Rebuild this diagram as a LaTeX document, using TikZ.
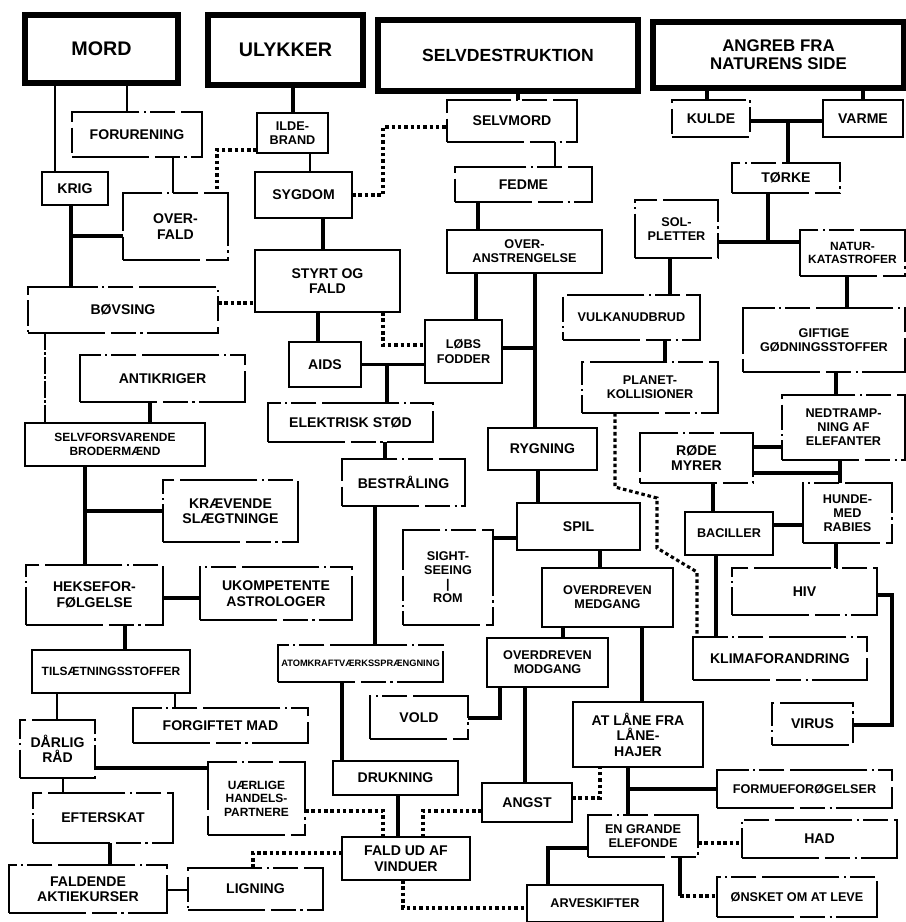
\documentclass[tikz,border=0pt]{standalone}
\usepackage{fontspec}
\setmainfont{Liberation Sans}
\usetikzlibrary{positioning,calc}

\tikzset{
  box/.style={draw, line width=1.1pt, inner sep=1pt, outer sep=0pt, align=center,
    font=\bfseries\fontsize{10}{11}\selectfont},
  gapbox/.style={box, dash pattern=on 55pt off 4pt on 18pt off 3pt on 1.5pt off 3pt},
  topbox/.style={box, line width=4pt, font=\bfseries\fontsize{14}{15}\selectfont},
  wh/.style 2 args={minimum width=#1*0.025cm, minimum height=#2*0.025cm},
  mid/.style={font=\bfseries\fontsize{9}{10}\selectfont},
  small/.style={font=\bfseries\fontsize{8.5}{9.5}\selectfont},
  tiny/.style={font=\bfseries\fontsize{6.6}{8}\selectfont},
  link/.style={line width=2.6pt},
  midlink/.style={line width=1.8pt},
  dots/.style={line width=2.2pt, dash pattern=on 2.5pt off 2pt},
  dashlink/.style={line width=1.4pt, dash pattern=on 12pt off 1.5pt on 2pt off 1.5pt}
}

\begin{document}
\begin{tikzpicture}[x=0.025cm, y=-0.025cm]
\useasboundingbox (0,0) rectangle (906,922);

% top row
\node[topbox, wh={153}{68}] (mord) at (101.5,49) {MORD};
\node[topbox, wh={155}{70}] (ulykker) at (285.5,50) {ULYKKER};
\node[topbox, wh={260}{71}, font=\bfseries\fontsize{12.5}{14}\selectfont] (selvdestr) at (508,55.5) {SELVDESTRUKTION};
\node[topbox, wh={251}{66}, font=\bfseries\fontsize{12}{13}\selectfont] (angreb) at (778.5,55) {ANGREB FRA\\NATURENS SIDE};

% mord
\node[gapbox, wh={130}{45}] (forurening) at (137,134.5) {FORURENING};
\node[box, wh={66}{33}] (krig) at (75,188.5) {KRIG};
\node[gapbox, wh={105}{67}] (overfald) at (175.5,226.5) {OVER-\\FALD};
\node[gapbox, wh={190}{46}] (bavsing) at (123,310) {BØVSING};
\node[gapbox, wh={165}{47}] (antikriger) at (162.5,378.5) {ANTIKRIGER};
\node[box, wh={180}{43}, small] (selvforsv) at (115,444.5) {SELVFORSVARENDE\\BRODERMÆND};
\node[gapbox, wh={135}{62}] (kraevende) at (230.5,511) {KRÆVENDE\\SLÆGTNINGE};
\node[gapbox, wh={137}{60}] (forfoelgelse) at (94.5,595) {HEKSEFOR-\\FØLGELSE};
\node[gapbox, wh={152}{53}] (ukompetente) at (276,593.5) {UKOMPETENTE\\ASTROLOGER};
\node[box, wh={158}{43}, small] (tilsaetning) at (111,671.5) {TILSÆTNINGSSTOFFER};
\node[gapbox, wh={175}{35}] (forgiftet) at (220.5,725.5) {FORGIFTET MAD};
\node[gapbox, wh={75}{58}] (aerlig) at (57.5,749) {DÅRLIG\\RÅD};
\node[gapbox, wh={97}{73}, small] (uaerlige) at (256.5,798.5) {UÆRLIGE\\HANDELS-\\PARTNERE};
\node[gapbox, wh={140}{50}] (giftskat) at (103,818) {EFTERSKAT};
\node[gapbox, wh={158}{48}] (faldende) at (88,889) {FALDENDE\\AKTIEKURSER};
\node[gapbox, wh={135}{42}] (taening) at (255.5,889) {LIGNING};

% ulykker
\node[box, wh={71}{40}, mid] (ildebrand) at (292.5,133) {ILDE-\\BRAND};
\node[box, wh={97}{46}] (sygdom) at (303.5,195) {SYGDOM};
\node[box, wh={145}{62}] (styrt) at (327.5,281) {STYRT OG\\FALD};
\node[box, wh={72}{45}] (aids) at (325,364.5) {AIDS};
\node[gapbox, wh={165}{39}] (elektrisk) at (350.5,422.5) {ELEKTRISK STØD};
\node[gapbox, wh={123}{47}] (bestraaling) at (403.5,482.5) {BESTRÅLING};
\node[gapbox, wh={165}{37}, tiny] (atomkraft) at (360.5,663.5) {ATOMKRAFTVÆRKSSPRÆNGNING};
\node[gapbox, wh={98}{43}] (vold) at (419,717.5) {VOLD};
\node[box, wh={125}{34}] (drukning) at (395.5,778) {DRUKNING};
\node[box, wh={128}{43}] (faldud) at (406,858.5) {FALD UD AF\\VINDUER};

% selvdestruktion
\node[gapbox, wh={130}{42}] (selvmord) at (512,121) {SELVMORD};
\node[gapbox, wh={137}{35}] (fedme) at (523.5,184.5) {FEDME};
\node[box, wh={155}{43}, mid] (overanstr) at (524.5,251.5) {OVER-\\ANSTRENGELSE};
\node[box, wh={77}{63}, mid] (loeds) at (463.5,351.5) {LØBS\\FODDER};
\node[box, wh={109}{42}] (rygning) at (542.5,449) {RYGNING};
\node[box, wh={123}{47}] (spil) at (578.5,526.5) {SPIL};
\node[gapbox, wh={90}{95}, mid] (sightseeing) at (448,577.5) {SIGHT-\\SEEING\\|\\ROM};
\node[box, wh={131}{59}, mid] (medgang) at (607.5,597.5) {OVERDREVEN\\MEDGANG};
\node[box, wh={121}{49}, mid] (modgang) at (547.5,662.5) {OVERDREVEN\\MODGANG};
\node[box, wh={130}{65}] (laane) at (638,734.5) {AT LÅNE FRA\\LÅNE-\\HAJER};
\node[box, wh={90}{39}] (angst) at (527,802.5) {ANGST};
\node[gapbox, wh={110}{42}, mid] (engrande) at (643,836) {EN GRANDE\\ELEFONDE};
\node[box, wh={136}{37}, mid] (arve) at (595,903.5) {ARVESKIFTER};

% angreb fra naturens side
\node[gapbox, wh={78}{37}] (kulde) at (711,118.5) {KULDE};
\node[box, wh={80}{37}] (varme) at (863,118.5) {VARME};
\node[gapbox, wh={108}{30}] (toerke) at (786,178) {TØRKE};
\node[gapbox, wh={83}{58}, mid] (solpletter) at (676.5,229) {SOL-\\PLETTER};
\node[gapbox, wh={105}{46}, small] (naturkat) at (852.5,253) {NATUR-\\KATASTROFER};
\node[gapbox, wh={137}{45}, mid] (vulkan) at (631.5,317.5) {VULKANUDBRUD};
\node[gapbox, wh={162}{64}, mid] (giftige) at (824,340) {GIFTIGE\\GØDNINGSSTOFFER};
\node[gapbox, wh={136}{51}, mid] (planet) at (650,387.5) {PLANET-\\KOLLISIONER};
\node[gapbox, wh={123}{65}, mid] (nedtramp) at (843.5,427.5) {NEDTRAMP-\\NING AF\\ELEFANTER};
\node[gapbox, wh={113}{50}] (roedemyrer) at (696.5,458) {RØDE\\MYRER};
\node[box, wh={88}{43}, mid] (baciller) at (729,533.5) {BACILLER};
\node[gapbox, wh={89}{60}, mid] (hunde) at (847.5,513) {HUNDE-\\MED\\RABIES};
\node[gapbox, wh={145}{47}] (hvg) at (804.5,591.5) {HIV};
\node[gapbox, wh={174}{43}] (klima) at (780,658.5) {KLIMAFORANDRING};
\node[gapbox, wh={81}{42}] (virus) at (812.5,724) {VIRUS};
\node[gapbox, wh={175}{38}, mid] (formue) at (804.5,789) {FORMUEFORØGELSER};
\node[gapbox, wh={155}{38}] (had) at (819.5,839) {HAD};
\node[gapbox, wh={160}{40}, mid] (oensket) at (797,897) {ØNSKET OM AT LEVE};

% junctions
\coordinate (j1) at (71,236);
\coordinate (j2) at (387,365);
\coordinate (j3) at (85,511);
\coordinate (j4) at (535,348);
\coordinate (j5) at (788,121);
\coordinate (j6) at (768,242);
\coordinate (j7) at (840,473);
\coordinate (j8) at (628,789);
\coordinate (j9) at (680,896);

% mord connectors
\draw[midlink] (mord.south -| 55,0) -- (krig.north -| 55,0);
\draw[midlink] (mord.south -| 127,0) -- (forurening.north -| 127,0);
\draw[midlink] (forurening.south -| 173,0) -- (overfald.north -| 173,0);
\draw[link] (krig.south -| j1) -- (bavsing.north -| j1);
\draw[link] (j1) -- (overfald.west |- j1);
\draw[dots] (bavsing.east |- 0,303) -- (styrt.west |- 0,303);
\draw[dashlink] (bavsing.south -| 45,0) -- (selvforsv.north -| 45,0);
\draw[link] (antikriger.south -| 150,0) -- (selvforsv.north -| 150,0);
\draw[link] (selvforsv.south -| j3) -- (forfoelgelse.north -| j3);
\draw[link] (j3) -- (kraevende.west |- j3);
\draw[link] (forfoelgelse.east |- 0,598) -- (ukompetente.west |- 0,598);
\draw[link] (forfoelgelse.south -| 125,0) -- (tilsaetning.north -| 125,0);
\draw[midlink] (tilsaetning.south -| 57,0) -- (aerlig.north -| 57,0);
\draw[midlink] (tilsaetning.south -| 175,0) -- (forgiftet.north -| 175,0);
\draw[link] (aerlig.east |- 0,768) -- (uaerlige.west |- 0,768);
\draw[midlink] (aerlig.south -| 63,0) -- (giftskat.north -| 63,0);
\draw[link] (giftskat.south -| 110,0) -- (faldende.north -| 110,0);
\draw[midlink] (faldende.east |- 0,890) -- (taening.west |- 0,890);
\draw[dots] (taening.north -| 253,0) |- (faldud.west |- 0,853);
\draw[dots] (uaerlige.east |- 0,811) -| (faldud.north -| 383,0);

% ulykker connectors
\draw[link] (ulykker.south -| 293,0) -- (ildebrand.north -| 293,0);
\draw[midlink] (ildebrand.south -| 310,0) -- (sygdom.north -| 310,0);
\draw[dots] (ildebrand.west |- 0,150) -| (overfald.north -| 217,0);
\draw[dots] (sygdom.east) -- ++(31,0) |- (selvmord.west |- 0,127);
\draw[link] (sygdom.south -| 323,0) -- (styrt.north -| 323,0);
\draw[link] (styrt.south -| 318,0) -- (aids.north -| 318,0);
\draw[dots] (styrt.south -| 383,0) |- (loeds.west |- 0,345);
\draw[link] (aids.east) -- (loeds.west |- aids.east);
\draw[link] (j2) -- (elektrisk.north -| j2);
\draw[link] (elektrisk.south -| 385,0) -- (bestraaling.north -| 385,0);
\draw[link] (bestraaling.south -| 375,0) -- (atomkraft.north -| 375,0);
\draw[link] (atomkraft.south -| 342,0) -- (drukning.north -| 342,0);
\draw[link] (drukning.south -| 398,0) -- (faldud.north -| 398,0);
\draw[link] (vold.east |- 0,718) -| (modgang.south -| 500,0);
\draw[dots] (angst.west |- 0,811) -| (faldud.north -| 423,0);
\draw[dots] (faldud.south -| 403,0) |- (arve.west |- 0,908);

% selvdestruktion connectors
\draw[link] (selvdestr.south -| 518,0) -- (selvmord.north -| 518,0);
\draw[midlink] (selvmord.south -| 555,0) -- (fedme.north -| 555,0);
\draw[link] (fedme.south -| 478,0) -- (overanstr.north -| 478,0);
\draw[link] (overanstr.south -| 476,0) -- (loeds.north -| 476,0);
\draw[link] (overanstr.south -| j4) -- (rygning.north -| j4);
\draw[link] (j4) -- (loeds.east |- j4);
\draw[link] (rygning.south -| 538,0) -- (spil.north -| 538,0);
\draw[link] (sightseeing.east |- 0,538) -- (spil.west |- 0,538);
\draw[link] (spil.south -| 600,0) -- (medgang.north -| 600,0);
\draw[link] (medgang.south -| 563,0) -- (modgang.north -| 563,0);
\draw[link] (medgang.south -| 642,0) -- (laane.north -| 642,0);
\draw[link] (modgang.south -| 525,0) -- (angst.north -| 525,0);
\draw[dots] (angst.east |- 0,798) -| (laane.south -| 600,0);
\draw[link] (laane.south -| j8) -- (engrande.north -| j8);
\draw[link] (j8) -- (formue.west |- j8);
\draw[dots] (engrande.east |- 0,843) -- (had.west |- 0,843);
\draw[link] (engrande.west |- 0,848) -| (arve.north -| 548,0);
\draw[link] (engrande.south -| j9) -- (j9);
\draw[dots] (j9) -- (oensket.west |- j9);

% naturens side connectors
\draw[link] (angreb.south -| 707,0) -- (kulde.north -| 707,0);
\draw[link] (angreb.south -| 863,0) -- (varme.north -| 863,0);
\draw[link] (kulde.east |- j5) -- (varme.west |- j5);
\draw[link] (j5) -- (toerke.north -| j5);
\draw[link] (toerke.south -| j6) -- (j6);
\draw[link] (solpletter.east |- j6) -- (naturkat.west |- j6);
\draw[link] (solpletter.south -| 670,0) -- (vulkan.north -| 670,0);
\draw[link] (vulkan.south -| 665,0) -- (planet.north -| 665,0);
\draw[dots] (planet.south -| 615,0) -- (615,487) -- (657,498) -- (657,548) -- (697,572) -- (klima.north -| 697,0);
\draw[link] (naturkat.south -| 847,0) -- (giftige.north -| 847,0);
\draw[link] (giftige.south -| 836,0) -- (nedtramp.north -| 836,0);
\draw[link] (roedemyrer.east |- 0,447) -- (nedtramp.west |- 0,447);
\draw[link] (nedtramp.south -| j7) -- (hunde.north -| j7);
\draw[link] (roedemyrer.east |- j7) -- (j7);
\draw[link] (roedemyrer.south -| 713,0) -- (baciller.north -| 713,0);
\draw[link] (baciller.east |- 0,525) -- (hunde.west |- 0,525);
\draw[link] (baciller.south -| 716,0) -- (klima.north -| 716,0);
\draw[link] (hunde.south -| 836,0) -- (hvg.north -| 836,0);
\draw[link] (hvg.east |- 0,595) -- ++(15,0) |- (virus.east |- 0,725);

\end{tikzpicture}
\end{document}
